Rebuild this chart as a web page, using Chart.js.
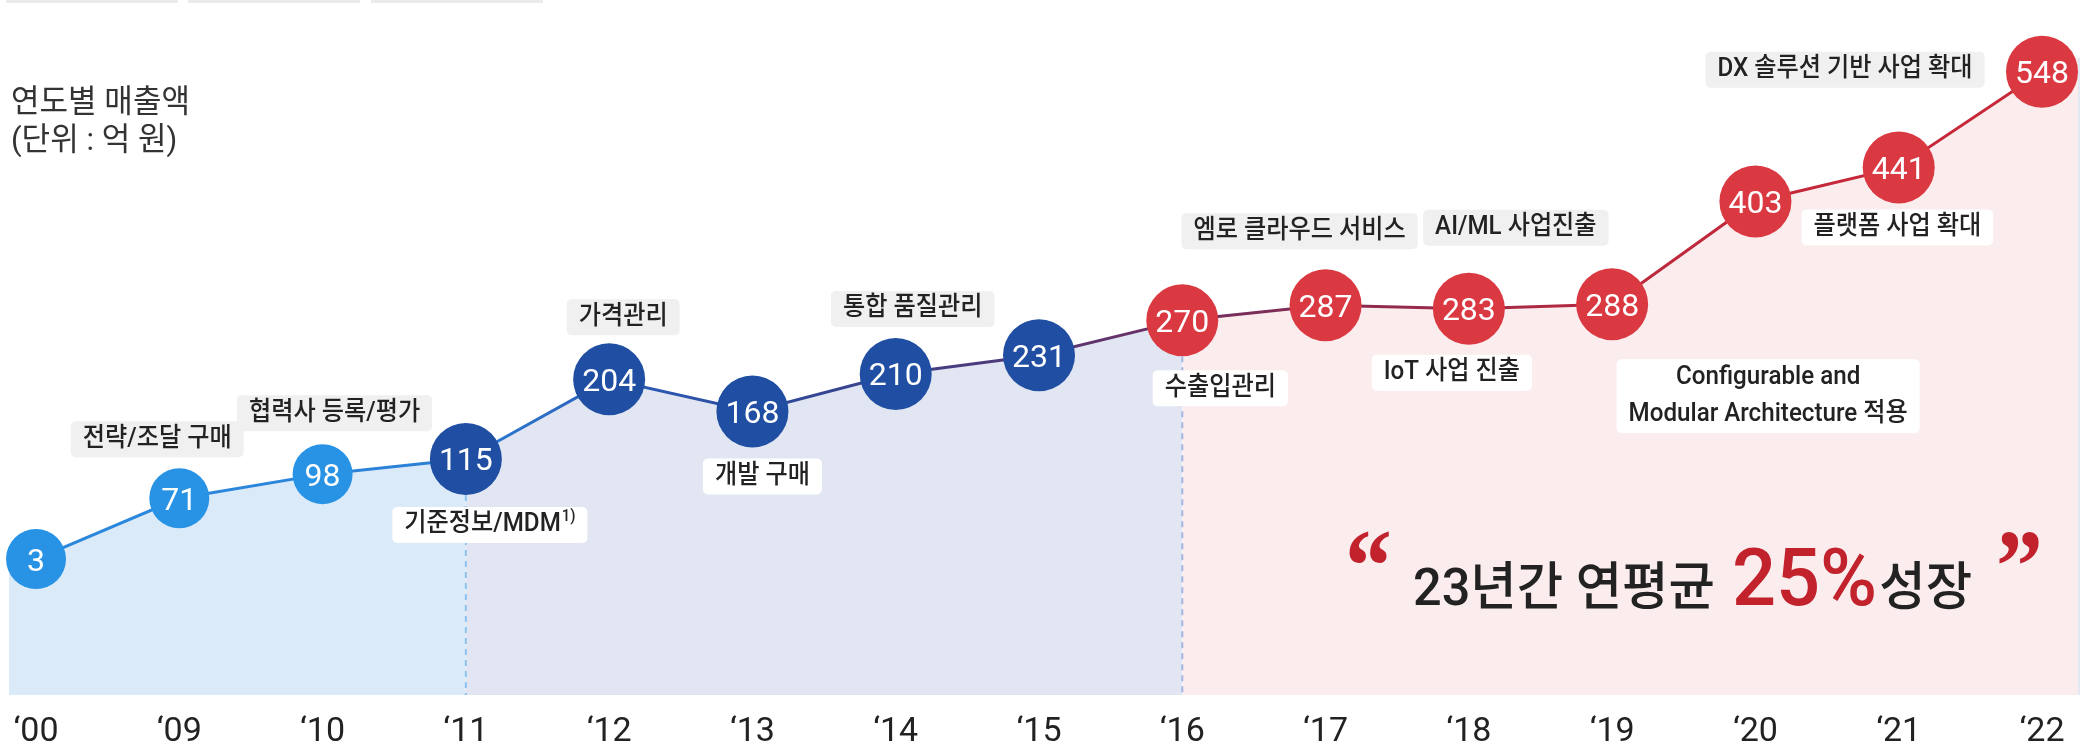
<!DOCTYPE html>
<html>
<head>
<meta charset="utf-8">
<script src="https://cdn.jsdelivr.net/npm/chart.js@4/dist/chart.umd.min.js"></script>
<style>
  html, body { margin: 0; padding: 0; background: #ffffff; }
  canvas { display: block; }
</style>
</head>
<body>
<canvas id="salesChart" width="2089" height="746"></canvas>
<script>
// Annual sales (unit: 100 million KRW)
const years = ['‘00', '‘09', '‘10', '‘11', '‘12', '‘13', '‘14', '‘15', '‘16', '‘17', '‘18', '‘19', '‘20', '‘21', '‘22'];
const sales = [3, 71, 98, 115, 204, 168, 210, 231, 270, 287, 283, 288, 403, 441, 548];

// Milestones and the year they belong to
const milestoneText = [
  '전략/조달 구매', '협력사 등록/평가', '기준정보/MDM', '가격관리', '개발 구매',
  '통합 품질관리', '수출입관리', '엠로 클라우드 서비스', 'AI/ML 사업진출', 'IoT 사업 진출',
  'Configurable and\nModular Architecture 적용', '플랫폼 사업 확대', 'DX 솔루션 기반 사업 확대'
];
const milestoneYear = ['‘09', '‘10', '‘11', '‘12', '‘13', '‘14', '‘16', '‘17', '‘18', '‘18', '‘19', '‘20', '‘22'];
const milestoneNote = ['', '', '1)', '', '', '', '', '', '', '', '', '', ''];

const titleLines = ['연도별 매출액', '(단위 : 억 원)'];
const growthText = { lead: '23년간 연평균', rate: '25%', tail: '성장' };

// ---- styling -------------------------------------------------------------
const KR = "Roboto, 'Noto Sans CJK KR', sans-serif";
const phaseOf = i => (i < 3 ? 0 : i < 8 ? 1 : 2);          // 0: early, 1: middle, 2: recent
const phaseDot = ['#2893E5', '#1F4EA2', '#DB3942'];
const phaseFill = ['#DAEAF8', '#E1E6F2', '#FBECEE'];
const lineStops = ['#2B87DC', '#2B87DC', '#2B85DA', '#2B7ED4', '#2C5EB9', '#2D4B9E', '#3D4088',
                   '#553874', '#702F60', '#872B52', '#A02A47', '#B9293E', '#C4283A', '#C6283A', '#C6283A'];

// label box placement relative to its year's point: dx, dy, light (white) box
const boxLayout = [
  [-22, -59, false], [12, -61, false], [24, 66, true], [14, -62, false], [10, 65, true],
  [17, -65, false], [38, 68, true], [-26, -74, false], [47, -81, false], [-17, 64, true],
  [156, 92, true], [142, 26, true], [-197, -2, false]
];

function drawScaled(ctx, text, x, y, font, color, align, sx, baseline) {
  ctx.save();
  ctx.font = font;
  ctx.fillStyle = color;
  ctx.textAlign = align;
  ctx.textBaseline = baseline || 'middle';
  ctx.translate(x, y);
  ctx.scale(sx, 1);
  ctx.fillText(text, 0, 0);
  ctx.restore();
}
function widthOf(ctx, text, font, sx) {
  ctx.save(); ctx.font = font;
  const w = ctx.measureText(text).width * sx;
  ctx.restore();
  return w;
}
function roundRect(ctx, x, y, w, h, r, color) {
  ctx.save();
  ctx.fillStyle = color;
  ctx.beginPath();
  ctx.roundRect(x, y, w, h, r);
  ctx.fill();
  ctx.restore();
}

const decorations = {
  id: 'decorations',
  beforeDraw(chart) {
    const ctx = chart.ctx;
    // tab strips cut off at the top edge
    ctx.save();
    ctx.fillStyle = '#EBEBEB';
    [[6, 172], [188, 172], [371, 172]].forEach(([x, w]) => ctx.fillRect(x, 0, w, 3));
    ctx.restore();
  },
  beforeDatasetsDraw(chart) {
    const ctx = chart.ctx, ys = chart.scales.y, area = chart.chartArea;
    const last = sales.length - 1;
    const y0 = ys.getPixelForValue(sales[0]);
    const yN = ys.getPixelForValue(sales[last]);
    ctx.save();
    ctx.fillStyle = phaseFill[0];
    ctx.fillRect(area.left - 27, y0, 27, area.bottom - y0);
    ctx.fillStyle = phaseFill[2];
    ctx.fillRect(area.right, yN - 14, 36, area.bottom - yN + 14);
    ctx.fillStyle = '#E3E8F5';
    ctx.fillRect(area.right + 36, yN - 14, 2, area.bottom - yN + 14);
    ctx.restore();
  },
  afterDatasetsDraw(chart) {
    const ctx = chart.ctx, area = chart.chartArea;
    const meta = chart.getDatasetMeta(0);

    // dashed phase dividers
    [[3, '#8CC4F0'], [8, '#A3B5DE']].forEach(([i, col]) => {
      const el = meta.data[i];
      ctx.save();
      ctx.strokeStyle = col;
      ctx.lineWidth = 2;
      ctx.setLineDash([6, 5]);
      ctx.beginPath();
      ctx.moveTo(el.x, el.y + el.options.radius);
      ctx.lineTo(el.x, area.bottom);
      ctx.stroke();
      ctx.restore();
    });

    // values inside the dots
    meta.data.forEach((el, i) => {
      drawScaled(ctx, String(sales[i]), el.x, el.y + 11.5, "400 32px Roboto, sans-serif", '#FFFFFF', 'center', 1, 'alphabetic');
    });

    // milestone labels
    const boxFont = `500 26px ${KR}`;
    const sx = 0.93;
    milestoneText.forEach((txt, k) => {
      const idx = years.indexOf(milestoneYear[k]);
      const el = meta.data[idx];
      const [dx, dy, light] = boxLayout[k];
      const cx = el.x + dx, cy = el.y + dy;
      const lines = txt.split('\n');
      const noteFont = `500 16px ${KR}`;
      let w = Math.max(...lines.map(l => widthOf(ctx, l, boxFont, sx)));
      const noteW = milestoneNote[k] ? widthOf(ctx, milestoneNote[k], noteFont, sx) + 1 : 0;
      if (lines.length === 1) w += noteW;
      const lh = 37;
      const h = lines.length === 1 ? 36 : lines.length * lh;
      const bw = w + 24;
      roundRect(ctx, cx - bw / 2, cy - h / 2, bw, h, 5, light ? '#FFFFFF' : '#F0F0F0');
      lines.forEach((l, j) => {
        const ly = cy - (lines.length - 1) * lh / 2 + j * lh;
        if (lines.length === 1 && noteW) {
          const left = cx - w / 2;
          drawScaled(ctx, l, left, ly, boxFont, '#222222', 'left', sx);
          drawScaled(ctx, milestoneNote[k], left + w - noteW + 1, ly - 8, noteFont, '#222222', 'left', sx);
        } else {
          drawScaled(ctx, l, cx, ly, boxFont, '#222222', 'center', sx);
        }
      });
    });
  },
  afterDraw(chart) {
    const ctx = chart.ctx;
    // heading
    drawScaled(ctx, titleLines[0], 11, 104, `400 32px ${KR}`, '#333333', 'left', 0.97);
    drawScaled(ctx, titleLines[1], 11, 142, `400 32px ${KR}`, '#333333', 'left', 0.97);

    // growth callout
    const base = 605;
    const leadFont = `500 52px ${KR}`;
    const rateFont = "500 80px Roboto, sans-serif";
    const quoteFont = "700 104px 'Liberation Serif', serif";
    let x = 1413;
    drawScaled(ctx, '“', x - 68, base - 4, quoteFont, '#C1222C', 'left', 0.9, 'alphabetic');
    drawScaled(ctx, growthText.lead, x, base, leadFont, '#222222', 'left', 0.97, 'alphabetic');
    x += widthOf(ctx, growthText.lead, leadFont, 0.97) + 17;
    drawScaled(ctx, growthText.rate, x, base, rateFont, '#C1222C', 'left', 0.97, 'alphabetic');
    x += widthOf(ctx, growthText.rate, rateFont, 0.97) + 2;
    drawScaled(ctx, growthText.tail, x, base, leadFont, '#222222', 'left', 0.97, 'alphabetic');
    x += widthOf(ctx, growthText.tail, leadFont, 0.97) + 24;
    drawScaled(ctx, '”', x, base - 4, quoteFont, '#C1222C', 'left', 0.9, 'alphabetic');
  }
};

new Chart(document.getElementById('salesChart'), {
  type: 'line',
  data: {
    labels: years,
    datasets: [{
      data: sales,
      clip: false,
      fill: 'start',
      tension: 0,
      borderWidth: 3,
      borderColor: (c) => {
        const chart = c.chart, area = chart.chartArea;
        if (!area || !chart.scales.x) return lineStops[0];
        const xs = chart.scales.x;
        const g = chart.ctx.createLinearGradient(area.left, 0, area.right, 0);
        lineStops.forEach((col, i) => {
          const p = (xs.getPixelForValue(i) - area.left) / (area.right - area.left);
          g.addColorStop(Math.min(1, Math.max(0, p)), col);
        });
        return g;
      },
      backgroundColor: phaseFill[0],
      segment: {
        backgroundColor: (c) => phaseFill[phaseOf(c.p0DataIndex)]
      },
      pointRadius: (c) => (sales[c.dataIndex] >= 100 ? 36 : 30),
      pointHoverRadius: (c) => (sales[c.dataIndex] >= 100 ? 36 : 30),
      pointBackgroundColor: (c) => phaseDot[phaseOf(c.dataIndex)],
      pointHoverBackgroundColor: (c) => phaseDot[phaseOf(c.dataIndex)],
      pointBorderWidth: 0,
      pointHoverBorderWidth: 0
    }]
  },
  options: {
    responsive: false,
    devicePixelRatio: 1,
    animation: false,
    events: [],
    layout: { padding: { left: 33, right: 47, top: 2, bottom: 0 } },
    plugins: { legend: { display: false }, tooltip: { enabled: false } },
    scales: {
      x: {
        type: 'category',
        offset: false,
        grid: { display: false, drawTicks: false },
        border: { display: false },
        afterFit: (scale) => { scale.height = 51; scale.paddingLeft = 0; scale.paddingRight = 0; },
        ticks: {
          autoSkip: false,
          maxRotation: 0,
          padding: 20,
          color: '#222222',
          font: { family: 'Roboto, sans-serif', size: 34, weight: '400', lineHeight: 1 }
        }
      },
      y: {
        display: false,
        min: -149,
        max: 588
      }
    }
  },
  plugins: [decorations]
});
</script>
</body>
</html>
